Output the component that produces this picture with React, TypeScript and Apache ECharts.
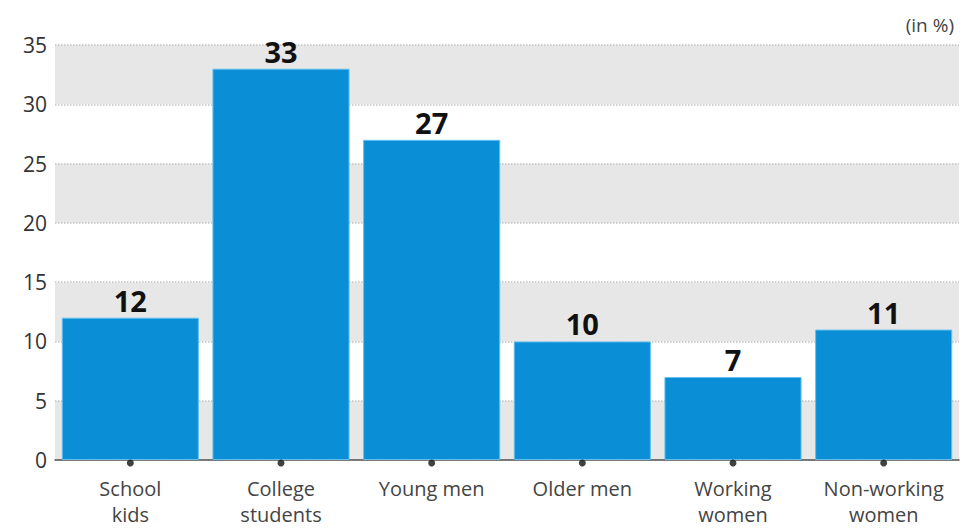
import React, { useEffect, useRef } from "react";
import * as echarts from "echarts";

const categories = ["School\nkids", "College\nstudents", "Young men", "Older men", "Working\nwomen", "Non-working\nwomen"];
const values = [12, 33, 27, 10, 7, 11];
const yTicks = [0, 5, 10, 15, 20, 25, 30, 35];
const unitLabel = "(in %)";

export default function App() {
  const ref = useRef<HTMLDivElement>(null);
  useEffect(() => {
    if (!ref.current) return;
    const chart = echarts.init(ref.current, null, { renderer: "svg" });
    const font = "'Open Sans', 'Noto Sans', sans-serif";
    chart.setOption({
      animation: false,
      backgroundColor: "#ffffff",
      grid: { left: 55, right: 3, top: 45, bottom: 69, containLabel: false },
      graphic: [
        {
          type: "text",
          right: 8,
          top: 15,
          style: { text: unitLabel, font: `19px ${font}`, fill: "#444" },
        },
      ],
      xAxis: {
        type: "category",
        data: categories,
        axisLine: { show: true, lineStyle: { color: "#555", width: 1.5 } },
        axisTick: { show: false },
        axisLabel: {
          color: "#444",
          fontSize: 20,
          fontFamily: font,
          lineHeight: 26,
          margin: 15,
          interval: 0,
        },
        splitLine: { show: false },
      },
      yAxis: {
        type: "value",
        min: yTicks[0],
        max: yTicks[yTicks.length - 1],
        interval: 5,
        axisLine: { show: false },
        axisTick: { show: false },
        axisLabel: { color: "#333", fontSize: 21, fontFamily: font, margin: 8 },
        splitLine: { show: true, lineStyle: { color: "#c4c4c4", type: "dotted", width: 1.5 } },
        splitArea: { show: true, areaStyle: { color: ["#e7e7e7", "#ffffff"] } },
      },
      series: [
        {
          type: "bar",
          data: values,
          barCategoryGap: "9%",
          itemStyle: { color: "#0a8fd7", borderColor: "#63c0ee", borderWidth: 1 },
          label: {
            show: true,
            position: "top",
            distance: 3,
            color: "#111",
            fontSize: 29,
            fontWeight: "bold",
            fontFamily: font,
          },
          z: 2,
        },
        {
          type: "scatter",
          data: categories.map(() => 0),
          symbol: "circle",
          symbolSize: 7,
          symbolOffset: [0, 3],
          itemStyle: { color: "#111" },
          z: 5,
          silent: true,
        },
      ],
    });
    return () => chart.dispose();
  }, []);
  return (
    <div
      ref={ref}
      style={{ position: "fixed", left: 0, top: 0, width: 962, height: 529 }}
    />
  );
}
